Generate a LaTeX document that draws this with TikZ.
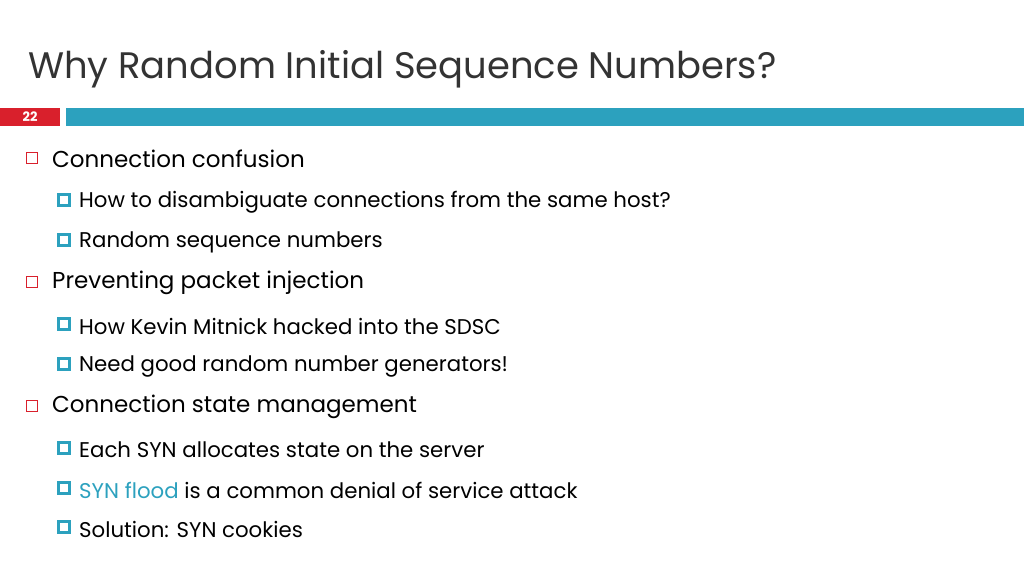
\documentclass[tikz,border=0pt]{standalone}
\usepackage{fontspec}
\setmainfont{Poppins}
\definecolor{tblue}{HTML}{2CA1BE}
\definecolor{tred}{HTML}{D9202C}
\begin{document}
\begin{tikzpicture}[x=1pt,y=-1pt,
  lone/.style={anchor=west,inner sep=0pt,font=\fontsize{23}{27}\selectfont},
  ltwo/.style={anchor=west,inner sep=0pt,font=\fontsize{21.3}{25}\selectfont},
  bone/.style={draw=tred,line width=1.3pt,fill=white,minimum size=11pt,inner sep=0pt},
  btwo/.style={draw=tblue,line width=3pt,fill=white,minimum size=11pt,inner sep=0pt}]
\useasboundingbox (0,0) rectangle (1024,576);
\node[anchor=base west,inner sep=0pt,font=\fontsize{36.9}{40}\selectfont,text=black!80] (title) at (28,78) {Why Random Initial Sequence Numbers?};
\fill[tred] (0,108) rectangle (60,126);
\node[text=white,font=\bfseries\fontsize{13}{14}\selectfont] (num) at (30,117) {22};
\fill[tblue] (66,108) rectangle (1024,126);
\foreach \y/\t [count=\i] in {158/Connection confusion,282/Preventing packet injection,406/Connection state management}{
  \node[bone] (b\i) at (32,\y) {};
  \node[lone] (t\i) at (52,\y+1) {\t};
}
\foreach \y/\t [count=\i] in {200/How to disambiguate connections from the same host?,240/Random sequence numbers,324/How Kevin Mitnick hacked into the SDSC,364/Need good random number generators!,448/Each SYN allocates state on the server,488/{\textcolor{tblue}{SYN flood} is a common denial of service attack},527/{Solution: SYN cookies}}{
  \node[btwo] (c\i) at (64,\y) {};
  \node[ltwo] (s\i) at (79,\y+2) {\t};
}
\end{tikzpicture}
\end{document}
